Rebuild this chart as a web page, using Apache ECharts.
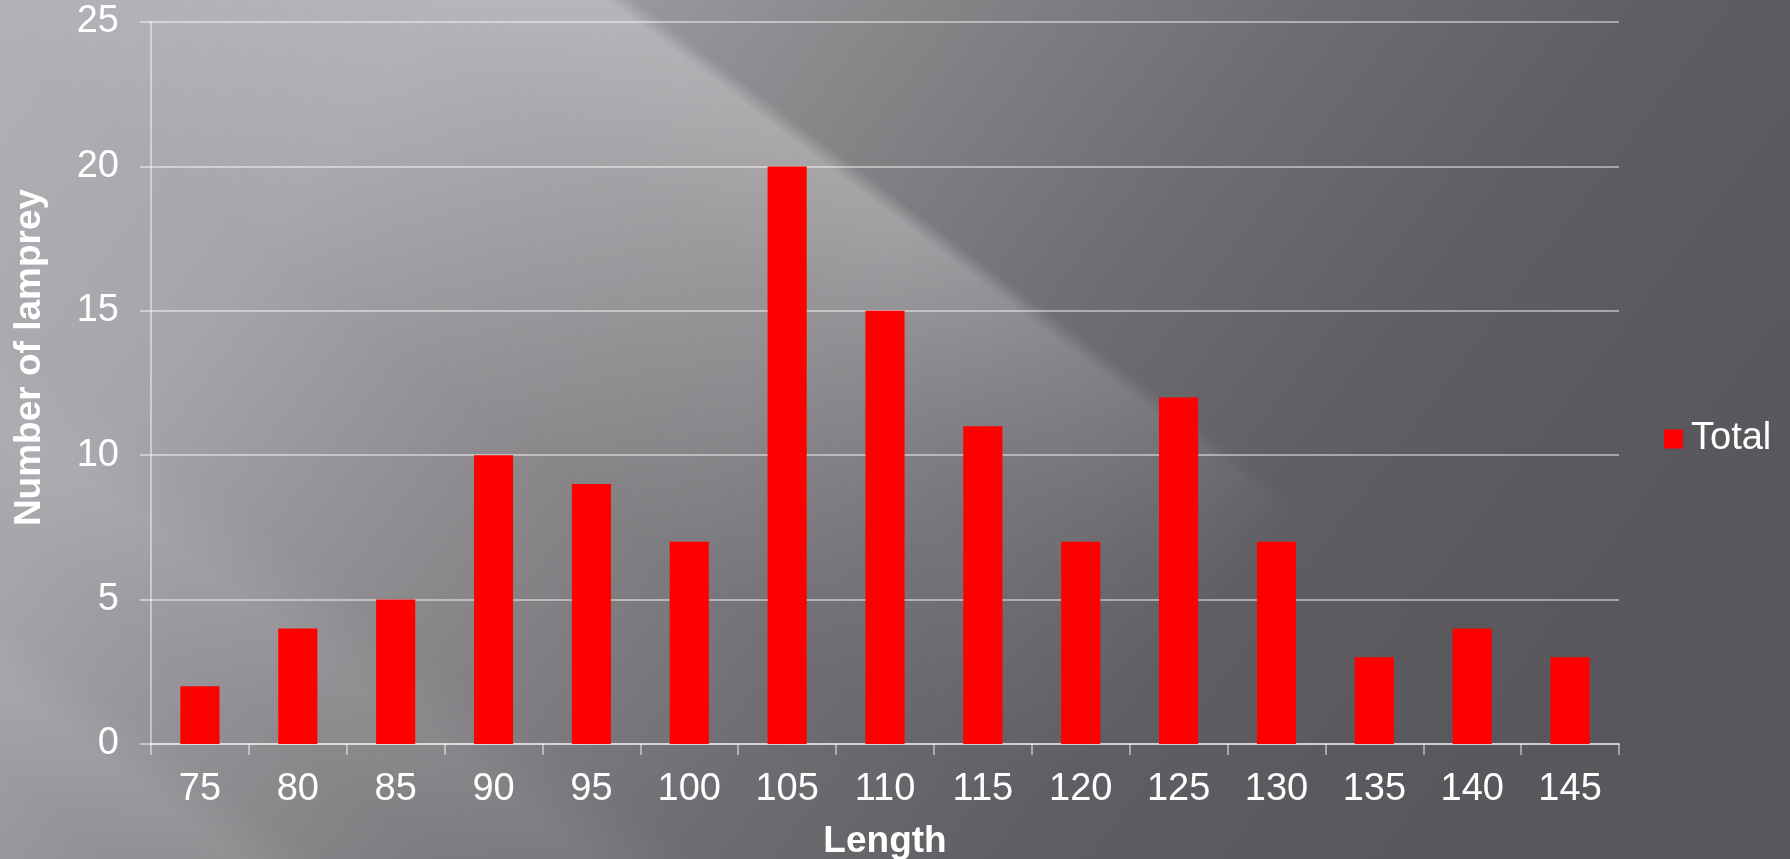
<!DOCTYPE html>
<html>
<head>
<meta charset="utf-8">
<title>Lamprey length distribution</title>
<script src="https://cdn.jsdelivr.net/npm/echarts@6/dist/echarts.min.js"></script>
<style>
  html, body {
    margin: 0;
    padding: 0;
    width: 1790px;
    height: 859px;
    overflow: hidden;
  }
  body {
    position: relative;
    /* grey backdrop, lighter towards the upper left */
    background: linear-gradient(127deg,
        #b2afb5 0%,
        #a7a4aa 18%,
        #888589 38%,
        #6f6d72 54%,
        #605e63 68%,
        #5a585d 82%,
        #58565b 100%);
  }
  /* faint diagonal streaks */
  .streaks {
    position: absolute;
    left: 0; top: 0;
    width: 1790px;
    height: 859px;
    background: linear-gradient(37deg,
        rgba(255,255,255,0) 4%,
        rgba(255,255,255,0.07) 8%,
        rgba(255,255,255,0) 11%,
        rgba(255,255,255,0) 15%,
        rgba(255,255,255,0.06) 20%,
        rgba(255,255,255,0) 24%,
        rgba(255,255,255,0) 100%);
  }
  /* main light band across the centre, fading towards the lower right */
  .sheen {
    position: absolute;
    left: 0; top: 0;
    width: 1790px;
    height: 859px;
    background: linear-gradient(37deg,
        rgba(255,255,255,0) 36%,
        rgba(255,255,255,0.08) 44%,
        rgba(255,255,255,0.16) 52%,
        rgba(255,255,255,0.26) 58%,
        rgba(255,255,255,0.28) 59.6%,
        rgba(255,255,255,0) 60.6%,
        rgba(255,255,255,0) 100%);
    -webkit-mask-image: linear-gradient(127deg, #000 0%, #000 44%, rgba(0,0,0,0.5) 58%, rgba(0,0,0,0) 70%);
    mask-image: linear-gradient(127deg, #000 0%, #000 44%, rgba(0,0,0,0.5) 58%, rgba(0,0,0,0) 70%);
  }
  #chart {
    position: absolute;
    left: 0; top: 0;
    width: 1790px;
    height: 859px;
  }
</style>
</head>
<body>
<div class="streaks"></div>
<div class="sheen"></div>
<div id="chart"></div>
<script>
// Lamprey counts per length class
const lengths = ['75', '80', '85', '90', '95', '100', '105', '110', '115', '120', '125', '130', '135', '140', '145'];
const totals = [2, 4, 5, 10, 9, 7, 20, 15, 11, 7, 12, 7, 3, 4, 3];
const yTicks = [0, 5, 10, 15, 20, 25];

const FONT = '"Liberation Sans", Arial, Helvetica, sans-serif';
const lineColor = 'rgba(255,255,255,0.45)';

const chart = echarts.init(document.getElementById('chart'), null, { renderer: 'canvas' });

chart.setOption({
  backgroundColor: 'transparent',
  animation: false,
  textStyle: { fontFamily: FONT },
  grid: {
    left: 151,
    right: 171,
    top: 22,
    bottom: 115,
    containLabel: false,
    outerBoundsMode: 'none'
  },
  legend: {
    data: ['Total'],
    orient: 'vertical',
    left: 1664,
    top: 420,
    padding: 0,
    icon: 'rect',
    itemWidth: 19,
    itemHeight: 19,
    textStyle: {
      color: '#ffffff',
      fontSize: 38,
      fontFamily: FONT,
      padding: [0, 0, 0, 3]
    }
  },
  xAxis: {
    type: 'category',
    data: lengths,
    name: 'Length',
    nameLocation: 'middle',
    nameGap: 79,
    nameTextStyle: {
      color: '#ffffff',
      fontSize: 37,
      fontWeight: 'bold',
      fontFamily: FONT
    },
    axisLine: { show: true, lineStyle: { color: lineColor, width: 2 } },
    axisTick: { show: true, length: 11, lineStyle: { color: lineColor, width: 2 } },
    axisLabel: {
      color: '#ffffff',
      fontSize: 38,
      margin: 27,
      fontFamily: FONT
    },
    splitLine: { show: false }
  },
  yAxis: {
    type: 'value',
    min: yTicks[0],
    max: yTicks[yTicks.length - 1],
    interval: yTicks[1] - yTicks[0],
    name: 'Number of lamprey',
    nameLocation: 'middle',
    nameRotate: 90,
    nameGap: 103,
    nameTextStyle: {
      color: '#ffffff',
      fontSize: 37,
      fontWeight: 'bold',
      fontFamily: FONT,
      padding: [0, 0, 0, 51]
    },
    axisLine: { show: true, lineStyle: { color: lineColor, width: 2 } },
    axisTick: { show: true, length: 11, lineStyle: { color: lineColor, width: 2 } },
    axisLabel: {
      color: '#ffffff',
      fontSize: 38,
      margin: 32,
      fontFamily: FONT
    },
    splitLine: { show: true, lineStyle: { color: lineColor, width: 2 } }
  },
  series: [{
    name: 'Total',
    type: 'bar',
    data: totals,
    barWidth: '40%',
    itemStyle: {
      color: '#ff0000'
    }
  }]
});
</script>
</body>
</html>
